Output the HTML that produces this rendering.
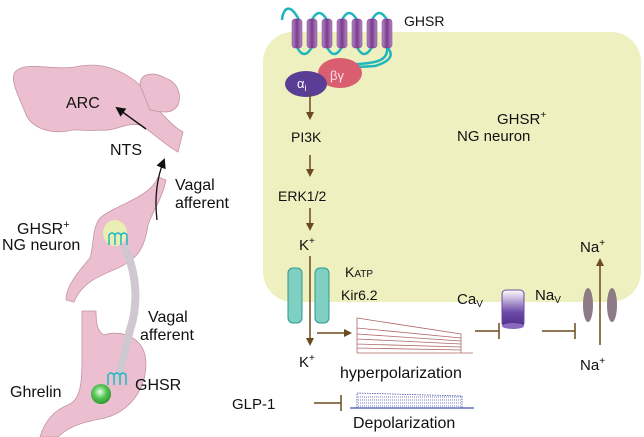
<!DOCTYPE html>
<html><head><meta charset="utf-8"><style>
html,body{margin:0;padding:0;background:#fff}
svg{display:block}
text{font-family:"Liberation Sans",sans-serif;fill:#111}
</style></head><body>
<svg width="644" height="437" viewBox="0 0 644 437">
<defs>
<marker id="ab" markerWidth="8" markerHeight="8" refX="6" refY="4" orient="auto" markerUnits="userSpaceOnUse"><path d="M0,0 L8,4 L0,8 Z" fill="#6b4a1e"/></marker>
<marker id="ak" markerWidth="10" markerHeight="10" refX="8" refY="5" orient="auto" markerUnits="userSpaceOnUse"><path d="M0,0 L10,5 L0,10 Z" fill="#111"/></marker>
<linearGradient id="cyl" x1="0" x2="1"><stop offset="0" stop-color="#b58ac4"/><stop offset=".5" stop-color="#7a3a8e"/><stop offset="1" stop-color="#b58ac4"/></linearGradient>
<linearGradient id="cav" x1="0" y1="0" x2="0" y2="1"><stop offset="0" stop-color="#fff"/><stop offset=".6" stop-color="#6e4aa8"/><stop offset="1" stop-color="#4a2d86"/></linearGradient>
<radialGradient id="ball" cx=".45" cy=".4" r=".6"><stop offset="0" stop-color="#e8ffe8"/><stop offset=".5" stop-color="#5cc85c"/><stop offset="1" stop-color="#2a9a2a"/></radialGradient>
</defs>
<!-- Left panel -->
<path d="M15,72 C25,60 55,72 80,66 C105,62 125,72 140,85 L148,100 C160,110 170,125 183,132 L178,152 C165,145 150,130 140,125 C125,122 115,132 100,130 C85,132 75,128 68,131 C50,134 30,128 25,112 C18,95 10,80 15,72 Z" fill="#ecbfd0" stroke="#c4949f" stroke-width="0.8"/>
<path d="M140,85 C140,72 155,72 165,78 C178,82 182,95 178,105 C172,115 160,112 150,110 Z" fill="#ecbfd0" stroke="#c4949f" stroke-width="0.8"/>
<path d="M158,177 L166,180 C162,200 152,212 148,225 C145,245 140,258 118,268 C100,276 82,282 74,302 L66,300 C66,285 80,270 90,258 C94,245 92,228 100,218 C115,205 150,198 158,177 Z" fill="#ecbfd0" stroke="#c4949f" stroke-width="0.8"/>
<ellipse cx="115" cy="233" rx="12" ry="13" fill="#e9efb4"/>
<path d="M82,311 L96,311 C96,325 98,332 104,335 C118,330 140,335 145,355 C150,380 135,410 105,418 C85,422 70,425 58,437 L40,437 C45,420 55,410 68,405 C80,400 82,385 82,360 Z" fill="#ecbfd0" stroke="#c4949f" stroke-width="0.8"/>
<path d="M125,248 C135,270 140,300 130,330 C125,350 122,365 118,378" fill="none" stroke="#cfc8d0" stroke-width="8" stroke-linecap="round"/>
<path d="M109,245 v-10 q3,-4 6,0 v10 M115,245 v-10 q3,-4 6,0 v10 M121,245 v-10 q3,-4 6,0 v10" fill="none" stroke="#20b8c0" stroke-width="1.5"/>
<path d="M108,385 v-10 q3,-4 6,0 v10 M114,385 v-10 q3,-4 6,0 v10 M120,385 v-10 q3,-4 6,0 v10" fill="none" stroke="#20b8c0" stroke-width="1.5"/>
<circle cx="101" cy="394" r="10" fill="url(#ball)"/>
<line x1="146" y1="129" x2="117" y2="108" stroke="#111" stroke-width="1.5" marker-end="url(#ak)"/>
<path d="M157,220 C154,195 158,175 164,160" fill="none" stroke="#111" stroke-width="1.3" marker-end="url(#ak)"/>
<text x="66" y="108" font-size="16">ARC</text>
<text x="110" y="155" font-size="16">NTS</text>
<text x="175" y="190" font-size="16">Vagal</text>
<text x="175" y="208" font-size="16">afferent</text>
<text x="17" y="234" font-size="16">GHSR<tspan font-size="11" dy="-6">+</tspan></text>
<text x="2" y="250" font-size="16">NG neuron</text>
<text x="148" y="322" font-size="16">Vagal</text>
<text x="140" y="340" font-size="16">afferent</text>
<text x="10" y="397" font-size="16">Ghrelin</text>
<text x="135" y="390" font-size="16">GHSR</text>
<!-- Right panel -->
<rect x="263" y="32" width="378" height="270" rx="30" fill="#eef1bf"/>
<path d="M299,20 C290,2 283,8 282,20 M297,47 q7,14 15,0 M327,47 q7,14 15,0 M357,47 q7,14 15,0 M312,20 q7,-14 15,0 M342,20 q7,-14 15,0 M372,20 q7,-14 15,0 M387,47 C390,70 350,60 340,68 L375,66 C395,60 392,52 387,47" fill="none" stroke="#1fb5bd" stroke-width="2.5"/>
<g fill="url(#cyl)" stroke="#7a3a8e" stroke-width="0.5">
<rect x="292" y="19" width="10" height="29" rx="3"/><rect x="307" y="19" width="10" height="29" rx="3"/><rect x="322" y="19" width="10" height="29" rx="3"/><rect x="337" y="19" width="10" height="29" rx="3"/><rect x="352" y="19" width="10" height="29" rx="3"/><rect x="367" y="19" width="10" height="29" rx="3"/><rect x="382" y="19" width="10" height="29" rx="3"/>
</g>
<text x="404" y="26" font-size="14">GHSR</text>
<ellipse cx="340" cy="73" rx="22" ry="15" fill="#d95f70"/>
<text x="330" y="80" font-size="13" style="fill:#fde">βγ</text>
<ellipse cx="306" cy="84" rx="21" ry="13" fill="#5a3e96"/>
<text x="297" y="88" font-size="13" style="fill:#fff">α<tspan font-size="9" dy="3">i</tspan></text>
<g stroke="#6b4a1e" stroke-width="1.5">
<line x1="310" y1="94" x2="310" y2="118" marker-end="url(#ab)"/>
<line x1="310" y1="155" x2="310" y2="175" marker-end="url(#ab)"/>
<line x1="310" y1="208" x2="310" y2="229" marker-end="url(#ab)"/>
</g>
<text x="291" y="142" font-size="14">PI3K</text>
<text x="278" y="201" font-size="14">ERK1/2</text>
<text x="299" y="250" font-size="15">K<tspan font-size="10" dy="-6">+</tspan></text>
<text x="497" y="124" font-size="15">GHSR<tspan font-size="10" dy="-6">+</tspan></text>
<text x="457" y="141" font-size="15">NG neuron</text>
<rect x="288" y="268" width="14" height="55" rx="5" fill="#7fcfc2" stroke="#2a9a8f"/>
<rect x="315" y="268" width="14" height="55" rx="5" fill="#7fcfc2" stroke="#2a9a8f"/>
<line x1="310" y1="256" x2="310" y2="344" stroke="#6b4a1e" stroke-width="1.5" marker-end="url(#ab)"/>
<line x1="317" y1="333" x2="350" y2="333" stroke="#6b4a1e" stroke-width="1.5" marker-end="url(#ab)"/>
<text x="299" y="367" font-size="15">K<tspan font-size="10" dy="-6">+</tspan></text>
<text x="345" y="277" font-size="14">K<tspan font-size="10">ATP</tspan></text>
<text x="341" y="300" font-size="14">Kir6.2</text>
<g fill="none" stroke="#b06868" stroke-width="0.8">
<path d="M357,353 H473 M357,353 V318 L461,334 V353 M357,328 L461,338 M357,334 L461,341 M357,339 L461,344 M357,344 L461,347 M357,348 L461,350"/>
</g>
<text x="340" y="378" font-size="16">hyperpolarization</text>
<text x="457" y="304" font-size="15">Ca<tspan font-size="10" dy="3">V</tspan></text>
<rect x="502" y="290" width="22" height="37" rx="4" fill="url(#cav)" stroke="#6e4aa8"/>
<ellipse cx="513" cy="326" rx="11" ry="3" fill="#8a6ac0"/>
<text x="535" y="300" font-size="15">Na<tspan font-size="10" dy="3">V</tspan></text>
<g stroke="#6b4a1e" stroke-width="1.5">
<line x1="475" y1="331" x2="499" y2="331"/><line x1="499" y1="323" x2="499" y2="339"/>
<line x1="542" y1="331" x2="575" y2="331"/><line x1="575" y1="323" x2="575" y2="339"/>
<line x1="600" y1="345" x2="600" y2="260" marker-end="url(#ab)"/>
<line x1="314" y1="403" x2="341" y2="403"/><line x1="341" y1="395" x2="341" y2="411"/>
</g>
<ellipse cx="588" cy="305" rx="5" ry="17" fill="#8d7a84"/>
<ellipse cx="612" cy="305" rx="5" ry="17" fill="#8d7a84"/>
<text x="580" y="252" font-size="15">Na<tspan font-size="10" dy="-6">+</tspan></text>
<text x="580" y="370" font-size="15">Na<tspan font-size="10" dy="-6">+</tspan></text>
<text x="232" y="409" font-size="15">GLP-1</text>
<g fill="none" stroke="#4050b0" stroke-width="0.8">
<path d="M350,408 H474 M357,408 V393 L462,396 V408" stroke-dasharray="1.5 1"/>
<path d="M358,397 H461 M358,400 H461 M358,403 H461 M358,406 H461" stroke-dasharray="1 1"/>
<line x1="350" y1="408" x2="474" y2="408" stroke-width="1.2"/>
</g>
<text x="353" y="428" font-size="16">Depolarization</text>
</svg>
</body></html>
